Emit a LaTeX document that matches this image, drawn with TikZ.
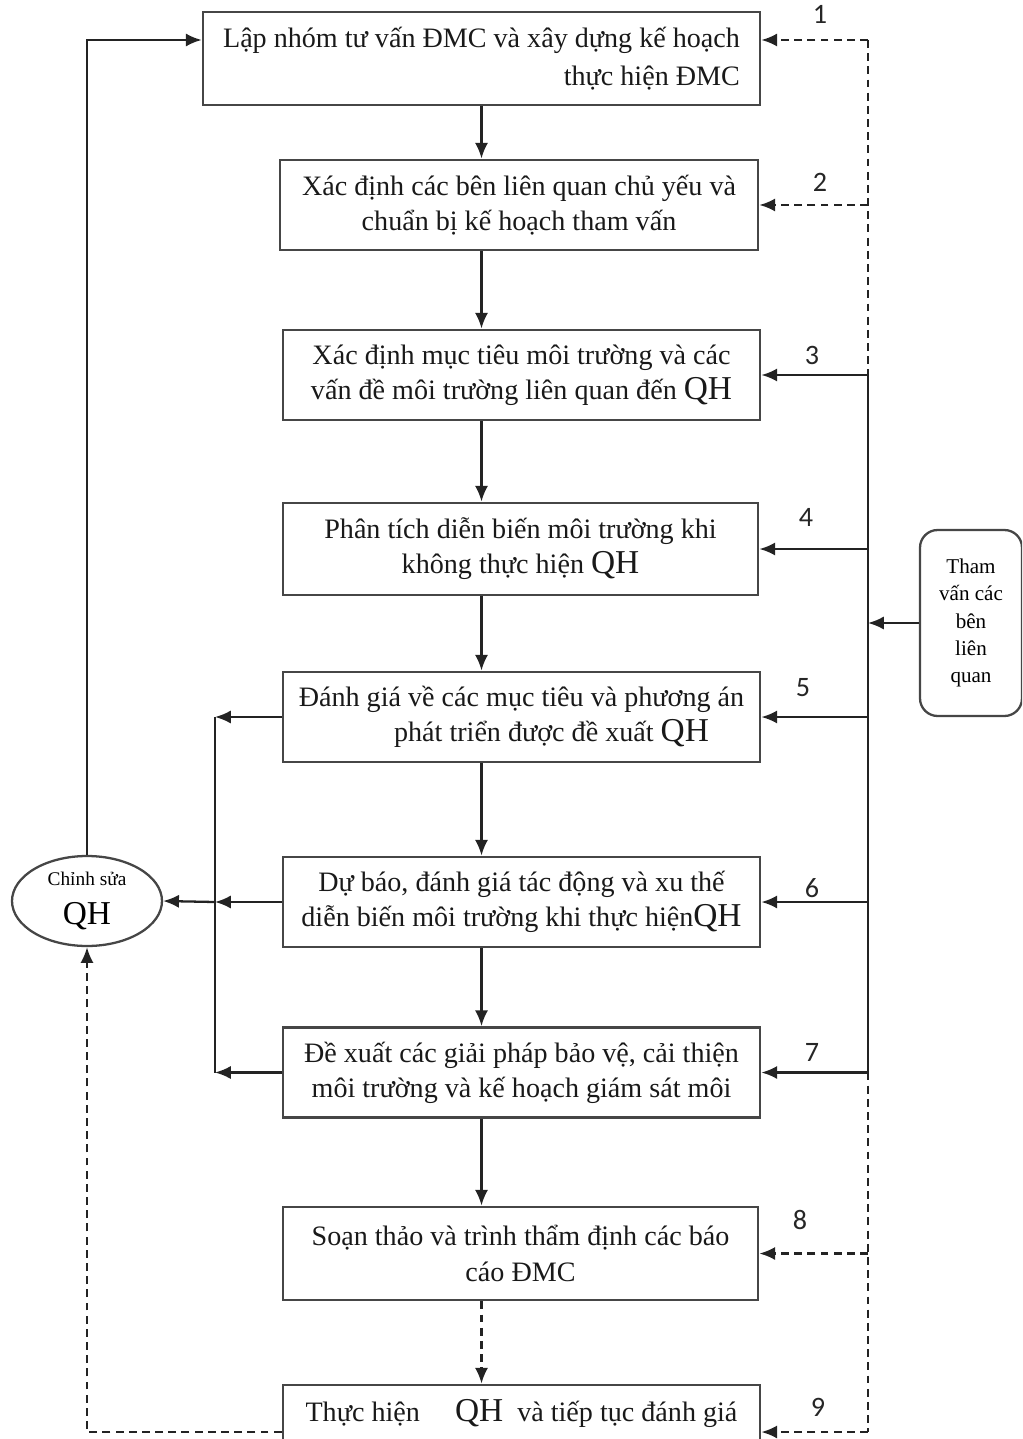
\documentclass[tikz,border=0pt]{standalone}
\usepackage{fontspec}
\setmainfont{Liberation Serif}
\newfontfamily\numfont{Carlito}
\usetikzlibrary{arrows.meta, shapes.geometric, positioning, calc}
\definecolor{bord}{RGB}{70,70,70}
\definecolor{lnk} {RGB}{35,35,35}
\newcommand{\qhtxt}{{\fontsize{19}{20}\selectfont QH}}
\tikzset{
  % Step box
  SB/.style={rectangle,draw=bord,line width=1.6pt,text=black!90,
             minimum width=#1,minimum height=1.8cm,align=center,
             font=\fontsize{16}{20}\selectfont,inner sep=2pt},
  SB/.default=9.54cm,
  % Consultation box
  CB/.style={rectangle,rounded corners=10pt,draw=bord,line width=1.3pt,
             minimum width=2.04cm,minimum height=3.72cm,align=center,
             font=\fontsize{12}{15.5}\selectfont,inner sep=1pt},
  % Revision ellipse
  EB/.style={ellipse,draw=bord,line width=1.3pt,minimum width=3cm,
             minimum height=1.8cm,inner sep=0pt,align=center},
  % Step numbers
  NL/.style={font=\numfont\fontsize{16}{16}\selectfont,text=black!85},
  % Arrows and lines
  Arr/.style ={-{Latex[length=9pt,width=7.5pt]},line width=1.3pt,color=lnk},
  DArr/.style={Arr,dash pattern=on 4.5pt off 3pt},
  Ln/.style  ={line width=1.3pt,color=lnk},
  DLn/.style ={Ln,dash pattern=on 4.5pt off 3pt},
}
\begin{document}
\begin{tikzpicture}[x=0.02cm,y=-0.02cm]
  \useasboundingbox (0,0) rectangle (1022,1439);
  \clip (0,0) rectangle (1022,1439);
  % main steps
  \node[SB=11.14cm,minimum height=1.86cm,align=right,
        font=\fontsize{16}{22}\selectfont] at (481.5,58.5) (b1)
        {Lập nhóm tư vấn ĐMC và xây dựng kế hoạch\\thực hiện ĐMC};
  \node[SB=9.56cm] at (519,205) (b2)
        {Xác định các bên liên quan chủ yếu và\\chuẩn bị kế hoạch tham vấn};
  \node[SB] at (521.5,375) (b3)
        {Xác định mục tiêu môi trường và các\\vấn đề môi trường liên quan đến \qhtxt};
  \node[SB=9.5cm,minimum height=1.84cm] at (520.5,549) (b4)
        {Phân tích diễn biến môi trường khi\\không thực hiện \qhtxt};
  \node[SB] at (521.5,717) (b5)
        {Đánh giá về các mục tiêu và phương án\\\hspace*{1.2cm}phát triển được đề xuất \qhtxt};
  \node[SB] at (521.5,902) (b6)
        {Dự báo, đánh giá tác động và xu thế\\diễn biến môi trường khi thực hiện\qhtxt};
  \node[SB] at (521.5,1072.5) (b7)
        {Đề xuất các giải pháp bảo vệ, cải thiện\\môi trường và kế hoạch giám sát môi};
  \node[SB=9.5cm,minimum height=1.86cm] at (520.5,1253.5) (b8)
        {Soạn thảo và trình thẩm định các báo\\cáo ĐMC};
  \node[SB,minimum height=1.12cm] at (521.5,1413) (b9)
        {Thực hiện \quad\qhtxt\ \ và tiếp tục đánh giá};
  \node[CB] at (971,623) (tv)
        {Tham\\vấn các\\bên\\liên\\quan};
  \node[EB] at (87,901) (e)
        {{\fontsize{11}{13}\selectfont Chỉnh sửa}\\[9pt]\qhtxt};
  % step numbers
  \node[NL] at (820,14)   (n1) {1};
  \node[NL] at (820,182)  (n2) {2};
  \node[NL] at (812,355)  (n3) {3};
  \node[NL] at (806,517)  (n4) {4};
  \node[NL] at (803,688)  (n5) {5};
  \node[NL] at (812,888)  (n6) {6};
  \node[NL] at (812,1052) (n7) {7};
  \node[NL] at (800,1220) (n8) {8};
  \node[NL] at (818,1407) (n9) {9};
  % bus coordinates
  \coordinate (r1) at (868,40);
  \coordinate (r9) at (868,1432);
  \coordinate (rbus) at (868,0);
  \coordinate (lbus) at (215,0);
  % downward flow
  \draw[Arr]  (b1.south) -- (b1.south |- b2.north);
  \draw[Arr]  (b1.south |- b2.south) -- (b1.south |- b3.north);
  \draw[Arr]  (b1.south |- b3.south) -- (b1.south |- b4.north);
  \draw[Arr]  (b1.south |- b4.south) -- (b1.south |- b5.north);
  \draw[Arr]  (b1.south |- b5.south) -- (b1.south |- b6.north);
  \draw[Arr]  (b1.south |- b6.south) -- (b1.south |- b7.north);
  \draw[Arr]  (b1.south |- b7.south) -- (b1.south |- b8.north);
  \draw[DArr] (b1.south |- b8.south) -- (b1.south |- b9.north);
  % consultation bus
  \draw[DLn] (r1) -- (b3.east -| rbus);
  \draw[Ln]  (b3.east -| rbus) -- (b7.east -| rbus);
  \draw[DLn] (b7.east -| rbus) -- (r9);
  \draw[Arr] (tv.west) -- (tv.west -| rbus);
  \draw[DArr] (r1) -- (r1 -| b1.east);
  \draw[DArr] (b2.east -| rbus) -- (b2.east);
  \draw[Arr]  (b3.east -| rbus) -- (b3.east);
  \draw[Arr]  (b4.east -| rbus) -- (b4.east);
  \draw[Arr]  (b5.east -| rbus) -- (b5.east);
  \draw[Arr]  (b6.east -| rbus) -- (b6.east);
  \draw[Arr]  (b7.east -| rbus) -- (b7.east);
  \draw[DArr] (b8.east -| rbus) -- (b8.east);
  \draw[DArr] (r9) -- (r9 -| b9.east);
  % revision loop
  \draw[Ln]  (b5.west -| lbus) -- (b7.west -| lbus);
  \draw[Arr] (b5.west) -- (b5.west -| lbus);
  \draw[Arr] (b6.west) -- (b6.west -| lbus);
  \draw[Arr] (b7.west) -- (b7.west -| lbus);
  \draw[Arr] (b6.west -| lbus) -- (e.east);
  \draw[Arr] (e.north) -- (e.north |- r1) -- (b1.west |- r1);
  \draw[DArr] (r9 -| b9.west) -- (e.south |- r9) -- (e.south);
\end{tikzpicture}
\end{document}
